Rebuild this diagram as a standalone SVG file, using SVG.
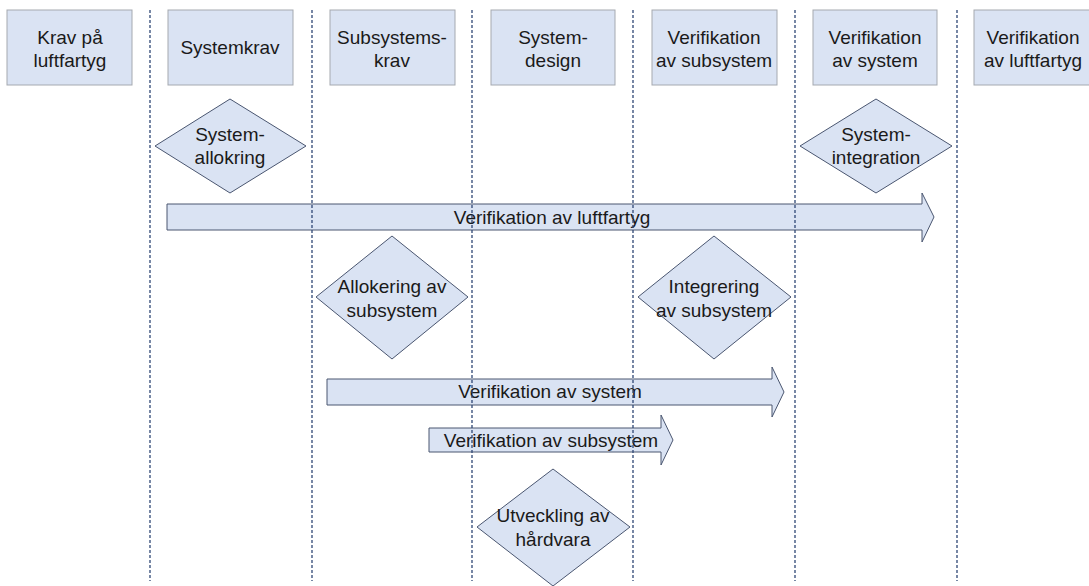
<svg xmlns="http://www.w3.org/2000/svg" width="1089" height="586" viewBox="0 0 1089 586">
<style>
.box{fill:#dae3f3;stroke:#a5a9b0;stroke-width:1}
.dia{fill:#dae3f3;stroke:#4a5670;stroke-width:1}
.arr{fill:#dae3f3;stroke:#4a5670;stroke-width:1}
.lane{stroke:#2f4775;stroke-width:1.3;stroke-dasharray:3 2;fill:none}
text{font-family:"Liberation Sans",Arial,sans-serif;font-size:19px;fill:#1a1a1a;text-anchor:middle}
</style>
<rect width="1089" height="586" fill="#ffffff"/>
<g id="box-krav-luftfartyg"><rect class="box" x="7" y="10" width="125" height="75"/><text x="70" y="44">Krav på</text><text x="70" y="67">luftfartyg</text></g>
<g id="box-systemkrav"><rect class="box" x="168" y="10" width="125" height="75"/><text x="230" y="54">Systemkrav</text></g>
<g id="box-subsystemskrav"><rect class="box" x="330" y="10" width="125" height="75"/><text x="392" y="44">Subsystems-</text><text x="392" y="67">krav</text></g>
<g id="box-systemdesign"><rect class="box" x="491" y="10" width="124" height="75"/><text x="553" y="44">System-</text><text x="553" y="67">design</text></g>
<g id="box-verif-subsystem"><rect class="box" x="652" y="10" width="125" height="75"/><text x="714" y="44">Verifikation</text><text x="714" y="67">av subsystem</text></g>
<g id="box-verif-system"><rect class="box" x="813" y="10" width="124" height="75"/><text x="875" y="44">Verifikation</text><text x="875" y="67">av system</text></g>
<g id="box-verif-luftfartyg"><rect class="box" x="974" y="10" width="125" height="75"/><text x="1033" y="44">Verifikation</text><text x="1033" y="67">av luftfartyg</text></g>

<g id="dia-systemallokring"><polygon class="dia" points="230,99 306,146 230,193 155,146"/><text x="230" y="141">System-</text><text x="230" y="164">allokring</text></g>
<g id="dia-systemintegration"><polygon class="dia" points="876,99 952,146 876,193 800,146"/><text x="876" y="141">System-</text><text x="876" y="164">integration</text></g>
<g id="dia-allokering-subsystem"><polygon class="dia" points="392,236 468,297 392,359 316,297"/><text x="392" y="293">Allokering av</text><text x="392" y="317">subsystem</text></g>
<g id="dia-integrering-subsystem"><polygon class="dia" points="714,236 791,297 714,359 638,297"/><text x="714" y="293">Integrering</text><text x="714" y="317">av subsystem</text></g>
<g id="dia-utveckling-hardvara"><polygon class="dia" points="553,469 630,527 553,586 477,527"/><text x="553" y="522">Utveckling av</text><text x="553" y="546">hårdvara</text></g>

<g id="connectors">
<g id="arrow-verif-luftfartyg"><path class="arr" d="M167,204 H922 V193 L934,217 L922,242 V230 H167 Z"/><text x="552" y="224">Verifikation av luftfartyg</text></g>
<g id="arrow-verif-system"><path class="arr" d="M327,379 H772 V367 L784,392 L772,417 V405 H327 Z"/><text x="550" y="398">Verifikation av system</text></g>
<g id="arrow-verif-subsystem"><path class="arr" d="M429,428 H661 V415 L673,440 L661,465 V452 H429 Z"/><text x="551" y="447">Verifikation av subsystem</text></g>
</g>

<g id="lanes">
<line class="lane" x1="150" y1="10" x2="150" y2="581"/>
<line class="lane" x1="312" y1="10" x2="312" y2="581"/>
<line class="lane" x1="472" y1="10" x2="472" y2="581"/>
<line class="lane" x1="633" y1="10" x2="633" y2="581"/>
<line class="lane" x1="795" y1="10" x2="795" y2="581"/>
<line class="lane" x1="957" y1="10" x2="957" y2="581"/>
</g>
</svg>
